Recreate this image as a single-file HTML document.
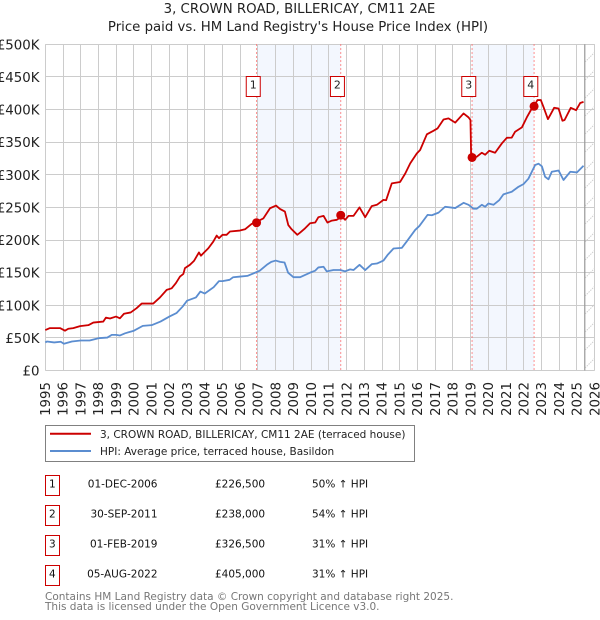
<!DOCTYPE html>
<html lang="en">
<head>
<meta charset="utf-8">
<title>3, CROWN ROAD, BILLERICAY, CM11 2AE</title>
<style>
html,body{margin:0;padding:0;background:#fff;width:600px;height:620px;overflow:hidden}
svg{display:block;font-family:"DejaVu Sans","Liberation Sans",sans-serif}
</style>
</head>
<body>
<svg id="chart" xmlns="http://www.w3.org/2000/svg" width="600" height="620" viewBox="0 0 600 620">
  <defs>
    <pattern id="hatch" patternUnits="userSpaceOnUse" width="18" height="18" x="585" y="44">
      <path d="M0,18 L18,0" stroke="#cfcfcf" stroke-width="1" stroke-dasharray="1.5 1" fill="none"/>
    </pattern>
  </defs>
  <text x="299.5" y="13" font-size="13.3" text-anchor="middle" fill="#222">3, CROWN ROAD, BILLERICAY, CM11 2AE</text>
  <text x="298" y="31" font-size="13.3" text-anchor="middle" fill="#222">Price paid vs. HM Land Registry's House Price Index (HPI)</text>
  <g id="plot"></g>

  <g>
    <rect x="45.5" y="425.5" width="369" height="36" fill="#fff" stroke="#808080" stroke-width="1"/>
    <line x1="50" x2="91" y1="433.7" y2="433.7" stroke="#cc0000" stroke-width="2"/>
    <text x="100" y="438" font-size="10.5" fill="#222">3, CROWN ROAD, BILLERICAY, CM11 2AE (terraced house)</text>
    <line x1="50" x2="91" y1="451" y2="451" stroke="#5b8dd0" stroke-width="2"/>
    <text x="100" y="455" font-size="10.5" fill="#222">HPI: Average price, terraced house, Basildon</text>
  </g>

  <g font-size="10.5" fill="#111">
    <g>
      <rect x="45.5" y="475.5" width="14" height="20" fill="#fff" stroke="#cc0000" stroke-width="1"/>
      <text x="52.3" y="487.3" text-anchor="middle">1</text>
      <text x="157.5" y="487.3" text-anchor="end">01-DEC-2006</text>
      <text x="215" y="487.3">£226,500</text>
      <text x="312" y="487.3">50% ↑ HPI</text>
    </g>
    <g>
      <rect x="45.5" y="505.5" width="14" height="20" fill="#fff" stroke="#cc0000" stroke-width="1"/>
      <text x="52.3" y="517.3" text-anchor="middle">2</text>
      <text x="157.5" y="517.3" text-anchor="end">30-SEP-2011</text>
      <text x="215" y="517.3">£238,000</text>
      <text x="312" y="517.3">54% ↑ HPI</text>
    </g>
    <g>
      <rect x="45.5" y="535.5" width="14" height="20" fill="#fff" stroke="#cc0000" stroke-width="1"/>
      <text x="52.3" y="547.3" text-anchor="middle">3</text>
      <text x="157.5" y="547.3" text-anchor="end">01-FEB-2019</text>
      <text x="215" y="547.3">£326,500</text>
      <text x="312" y="547.3">31% ↑ HPI</text>
    </g>
    <g>
      <rect x="45.5" y="565.5" width="14" height="20" fill="#fff" stroke="#cc0000" stroke-width="1"/>
      <text x="52.3" y="577.3" text-anchor="middle">4</text>
      <text x="157.5" y="577.3" text-anchor="end">05-AUG-2022</text>
      <text x="215" y="577.3">£405,000</text>
      <text x="312" y="577.3">31% ↑ HPI</text>
    </g>
  </g>

  <text x="45" y="600" font-size="10.5" fill="#777">Contains HM Land Registry data © Crown copyright and database right 2025.</text>
  <text x="45" y="610" font-size="10.5" fill="#777">This data is licensed under the Open Government Licence v3.0.</text>
</svg>

<script>
const yTickValues = [0, 50, 100, 150, 200, 250, 300, 350, 400, 450, 500];
const yTickLabels = ['£0', '£50K', '£100K', '£150K', '£200K', '£250K', '£300K', '£350K', '£400K', '£450K', '£500K'];
const xTickYears = [1995, 1996, 1997, 1998, 1999, 2000, 2001, 2002, 2003, 2004, 2005, 2006, 2007, 2008, 2009, 2010, 2011, 2012, 2013, 2014, 2015, 2016, 2017, 2018, 2019, 2020, 2021, 2022, 2023, 2024, 2025, 2026];

const hpiDates = [1995.0, 1995.1, 1995.5, 1995.87, 1996.05, 1996.5, 1997.0, 1997.5, 1998.0, 1998.5, 1998.75, 1999.0, 1999.2, 1999.5, 2000.0, 2000.5, 2001.0, 2001.5, 2002.0, 2002.4, 2002.75, 2003.0, 2003.5, 2003.75, 2004.0, 2004.5, 2004.8, 2005.0, 2005.4, 2005.6, 2006.0, 2006.4, 2006.9, 2007.1, 2007.5, 2007.75, 2008.0, 2008.25, 2008.5, 2008.7, 2009.0, 2009.38, 2009.94, 2010.23, 2010.41, 2010.7, 2010.88, 2011.26, 2011.64, 2011.92, 2012.2, 2012.39, 2012.73, 2013.05, 2013.42, 2013.71, 2014.08, 2014.31, 2014.65, 2015.12, 2015.4, 2015.87, 2016.11, 2016.57, 2016.81, 2017.19, 2017.56, 2018.13, 2018.6, 2018.88, 2019.16, 2019.35, 2019.63, 2019.82, 2020.0, 2020.29, 2020.61, 2020.85, 2021.32, 2021.7, 2021.98, 2022.26, 2022.64, 2022.83, 2023.02, 2023.2, 2023.39, 2023.58, 2023.96, 2024.24, 2024.62, 2025.0, 2025.37];
const hpiValues = [43, 44.5, 43, 44, 41, 44.5, 46, 46, 49.5, 50.5, 54.6, 54.6, 53.6, 57, 61, 68.4, 69.5, 75, 82.7, 88, 98, 107, 112, 121, 118, 127.7, 137, 137, 139, 143, 144, 145, 150.6, 153, 162, 166.5, 168.5, 166.5, 165.5, 150, 143, 143, 150, 153, 158, 159, 152, 154, 154, 152, 155, 154, 162, 154, 163, 164, 168.5, 177, 187, 188, 198, 215.5, 221.6, 238.5, 238, 242, 251, 249, 257, 254, 248, 248, 254, 251, 256, 254, 261, 270, 274, 281.6, 285.7, 294, 315, 317, 313, 297, 293, 304.6, 306.6, 292, 304.6, 303.6, 313.8];

const priceDates = [1995.0, 1995.26, 1995.83, 1996.11, 1996.3, 1996.58, 1996.96, 1997.43, 1997.71, 1998.27, 1998.42, 1998.65, 1998.99, 1999.21, 1999.44, 1999.82, 2000.15, 2000.44, 2001.09, 2001.47, 2001.85, 2002.13, 2002.37, 2002.6, 2002.79, 2002.88, 2003.16, 2003.39, 2003.67, 2003.78, 2004.2, 2004.48, 2004.67, 2004.8, 2005.0, 2005.23, 2005.42, 2005.98, 2006.27, 2006.64, 2006.93, 2007.3, 2007.68, 2008.02, 2008.24, 2008.52, 2008.71, 2008.9, 2009.22, 2009.38, 2009.66, 2009.94, 2010.23, 2010.41, 2010.7, 2010.92, 2011.17, 2011.45, 2011.73, 2011.92, 2012.11, 2012.39, 2012.73, 2013.05, 2013.42, 2013.71, 2014.08, 2014.23, 2014.55, 2015.02, 2015.31, 2015.59, 2015.96, 2016.15, 2016.53, 2016.9, 2017.13, 2017.47, 2017.75, 2018.13, 2018.6, 2018.88, 2018.99, 2019.03, 2019.08, 2019.35, 2019.63, 2019.82, 2020.05, 2020.38, 2020.76, 2021.04, 2021.32, 2021.51, 2021.89, 2022.17, 2022.45, 2022.55, 2022.77, 2022.96, 2023.11, 2023.36, 2023.49, 2023.71, 2023.96, 2024.18, 2024.3, 2024.65, 2024.95, 2025.18, 2025.37];
const priceValues = [62, 65, 65, 61, 64, 65, 68, 69.5, 73.5, 75, 81, 79.7, 82.7, 80, 87, 89, 95.5, 102.6, 102.6, 112, 123.6, 126, 134, 144, 148, 157, 162, 168, 181, 176, 187.4, 197.6, 206.8, 202.8, 208, 208, 213, 214.5, 216.5, 224.7, 228, 233, 248.7, 252.8, 247.7, 243.6, 223, 216.5, 208, 211.4, 218, 225.7, 226.8, 235, 237, 226.8, 229.8, 231, 236, 231, 237, 237, 250, 235, 252, 254, 261.5, 261, 286.8, 289, 302, 317.5, 332.7, 338, 362, 367.4, 371, 384.8, 386.4, 380, 394, 388, 384, 327.7, 326.6, 327.7, 333.8, 330.7, 336.8, 333.8, 348, 356.7, 357, 366, 372.6, 388, 401.6, 404, 414.5, 414.5, 404, 385.3, 391.5, 402.7, 401.6, 382.8, 384, 402.7, 399, 410, 411.7];

const saleLabels = ['1', '2', '3', '4'];
const saleDates = [2006.92, 2011.67, 2019.08, 2022.58];
const salePrices = [226.5, 238, 326.5, 405];
const bandStarts = [2007.0, 2019.08];
const bandEnds = [2011.67, 2022.58];
const forecastStart = 2025.44;

const X0 = 45.3, X1 = 594.7, Y0 = 370.5, Y1 = 44.3;
function xScale(year) { return X0 + (year - 1995) * (X1 - X0) / 31; }
function yScale(k) { return Y0 + k * (Y1 - Y0) / 500; }
function snap(v) { return Math.round(v - 0.5) + 0.5; }

const NS = 'http://www.w3.org/2000/svg';
const plot = document.getElementById('plot');
function make(tag, attrs) {
  const el = document.createElementNS(NS, tag);
  for (const k in attrs) el.setAttribute(k, attrs[k]);
  plot.appendChild(el);
  return el;
}
function pathFrom(dates, values) {
  return dates.map((d, i) => (i ? 'L' : 'M') + xScale(d).toFixed(2) + ',' + yScale(values[i]).toFixed(2)).join(' ');
}

bandStarts.forEach((start, i) => {
  const band = make('rect', { x: xScale(start), y: Y1, width: xScale(bandEnds[i]) - xScale(start), height: Y0 - Y1, fill: '#f3f7fe' });
  
  
});

yTickValues.forEach((v, i) => {
  const y = snap(yScale(v));
  const grid = make('line', { x1: X0, x2: X1, y1: y, y2: y, stroke: '#cccccc', 'stroke-width': 1 });
  
  
  const label = make('text', { x: 39.5, y: yScale(v) + 5, 'font-size': 13.33, 'text-anchor': 'end', fill: '#222' });
  label.textContent = yTickLabels[i];
  
  
});

xTickYears.forEach((year) => {
  const x = snap(xScale(year));
  const grid = make('line', { x1: x, x2: x, y1: Y1, y2: Y0, stroke: '#cccccc', 'stroke-width': 1 });
  
  
  const bx = xScale(year) + 4.7;
  const label = make('text', { x: bx, y: 382, 'font-size': 13.33, 'text-anchor': 'end', fill: '#222', transform: 'rotate(-90 ' + bx + ' 382)' });
  label.textContent = year;
  
  
});

const hatchRect = make('rect', { x: xScale(forecastStart), y: Y1, width: X1 - xScale(forecastStart), height: Y0 - Y1, fill: 'url(#hatch)' });


const forecastLine = make('line', { x1: xScale(forecastStart), x2: xScale(forecastStart), y1: Y1, y2: Y0, stroke: '#999999', 'stroke-width': 1.2 });



saleDates.forEach((d) => {
  const marker = make('line', { x1: xScale(d), x2: xScale(d), y1: Y1, y2: Y0, stroke: '#ff6b6b', 'stroke-width': 1, 'stroke-dasharray': '1.5 2.5' });
  
  
});

const hpiLine = make('path', { d: pathFrom(hpiDates, hpiValues), fill: 'none', stroke: '#5b8dd0', 'stroke-width': 1.8, 'stroke-linejoin': 'round' });


const priceLine = make('path', { d: pathFrom(priceDates, priceValues), fill: 'none', stroke: '#cc0000', 'stroke-width': 1.8, 'stroke-linejoin': 'round' });



saleDates.forEach((d, i) => {
  const dot = make('circle', { cx: xScale(d), cy: yScale(salePrices[i]), r: 4.5, fill: '#cc0000' });
  
  
  const bx = xScale(d) - 10.3;
  const box = make('rect', { x: bx, y: 76.5, width: 14, height: 20, fill: '#fff', stroke: '#cc0000', 'stroke-width': 1 });
  
  
  const num = make('text', { x: bx + 7, y: 88.5, 'font-size': 11, 'text-anchor': 'middle', fill: '#222' });
  num.textContent = saleLabels[i];
  
  
});
</script>
</body>
</html>
